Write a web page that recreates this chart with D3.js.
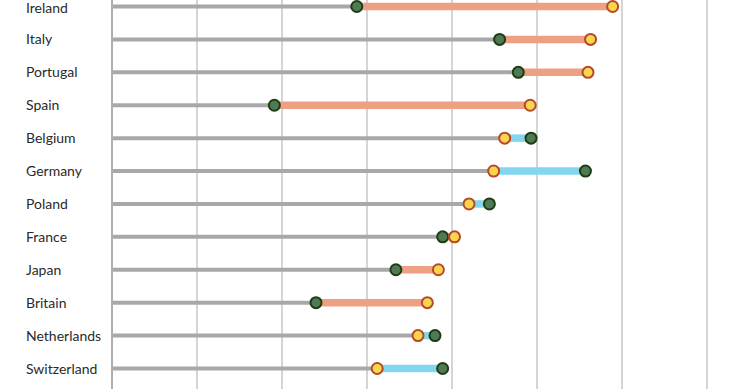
<!DOCTYPE html>
<html>
<head>
<meta charset="utf-8">
<script src="https://cdn.jsdelivr.net/npm/d3@7"></script>
<style>
  html, body { margin: 0; padding: 0; background: #fff; }
  svg { display: block; }
</style>
</head>
<body>
<svg id="chart" width="740" height="389"></svg>
<script>
const countries = ["Ireland","Italy","Portugal","Spain","Belgium","Germany","Poland","France","Japan","Britain","Netherlands","Switzerland"];
const greenValues = [28.8, 45.6, 47.8, 19.1, 49.3, 55.7, 44.4, 38.9, 33.4, 24.0, 38.0, 38.9];
const yellowValues = [58.9, 56.3, 56.0, 49.2, 46.2, 44.9, 42.0, 40.3, 38.4, 37.1, 36.0, 31.2];
const gridTicks = [0, 10, 20, 30, 40, 50, 60, 70, 80];

const data = countries.map((c, i) => ({ country: c, green: greenValues[i], yellow: yellowValues[i] }));

const W = 740, H = 389;
const svg = d3.select("#chart");

const x = d3.scaleLinear().domain([0, 80]).range([112, 792]);
const y = d3.scalePoint().domain(countries).range([6.5, 368.5]);

// gridlines
svg.append("g").selectAll("line").data(gridTicks.filter(d => d > 0)).join("line")
  .attr("x1", d => x(d)).attr("x2", d => x(d))
  .attr("y1", 0).attr("y2", H)
  .attr("stroke", "#cbcbcb").attr("stroke-width", 1.6);

// axis line
svg.append("line")
  .attr("x1", x(0)).attr("x2", x(0)).attr("y1", 0).attr("y2", H)
  .attr("stroke", "#9a9a9a").attr("stroke-width", 1.6);

// labels
svg.append("g").selectAll("text").data(data).join("text")
  .attr("x", 26).attr("y", d => Math.max(y(d.country), 7.5))
  .attr("dy", "0.36em")
  .attr("font-family", "Lato, 'Open Sans', sans-serif")
  .attr("font-size", 14)
  .attr("fill", "#2a2a2a")
  .text(d => d.country);

// gray stems
svg.append("g").selectAll("line").data(data).join("line")
  .attr("x1", x(0) + 1).attr("x2", d => x(Math.min(d.green, d.yellow)))
  .attr("y1", d => y(d.country)).attr("y2", d => y(d.country))
  .attr("stroke", "#a8a8a8").attr("stroke-width", 4);

// colored segments
svg.append("g").selectAll("line").data(data).join("line")
  .attr("x1", d => x(d.green)).attr("x2", d => x(d.yellow))
  .attr("y1", d => y(d.country)).attr("y2", d => y(d.country))
  .attr("stroke", d => d.yellow > d.green ? "#eea083" : "#84d6f0")
  .attr("stroke-width", 7.5);

// green dots
svg.append("g").selectAll("circle").data(data).join("circle")
  .attr("cx", d => x(d.green)).attr("cy", d => y(d.country))
  .attr("r", 5.5)
  .attr("fill", "#4f7a55").attr("stroke", "#1e3d12").attr("stroke-width", 2);

// yellow dots
svg.append("g").selectAll("circle").data(data).join("circle")
  .attr("cx", d => x(d.yellow)).attr("cy", d => y(d.country))
  .attr("r", 5.5)
  .attr("fill", "#f9d54e").attr("stroke", "#b44a2a").attr("stroke-width", 2);
</script>
</body>
</html>
